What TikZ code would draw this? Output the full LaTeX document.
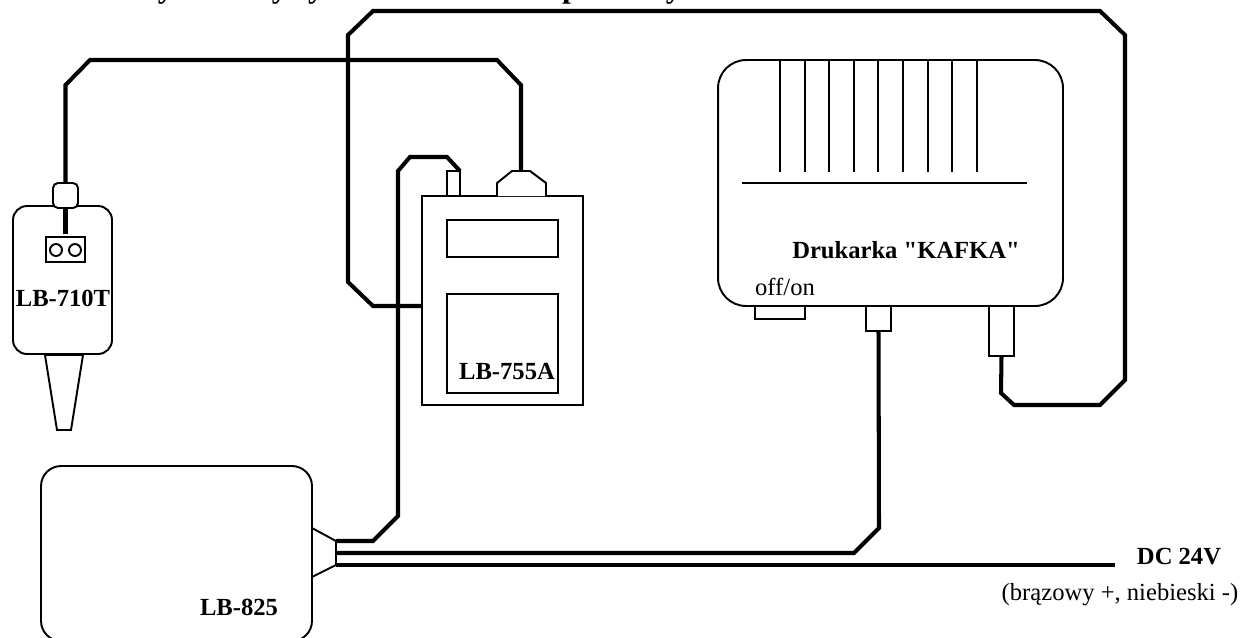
\documentclass[tikz,border=0pt]{standalone}
\usepackage{fontspec}
\defaultfontfeatures[\rmfamily]{}
\setmainfont{Liberation Serif}
\usetikzlibrary{positioning}

\begin{document}
\begin{tikzpicture}[
    x=0.02cm, y=-0.02cm,
    dev/.style={draw, line width=1.1pt, inner sep=0pt, outer sep=0pt, fill=white},
    cable/.style={line width=2.3pt, line join=miter},
    thinl/.style={line width=1.1pt},
    lbl/.style={font=\fontsize{14}{16}\selectfont, inner sep=0pt},
    blbl/.style={font=\fontsize{14}{16}\selectfont\bfseries, inner sep=0pt}
]
\useasboundingbox (0,0) rectangle (1240,637);
\node[anchor=base west, inner sep=0pt, font=\fontsize{18}{22}\selectfont\bfseries] (title) at (110,-3) {Przykładowy system kontroli temperatury};

% sonda
\node[dev, rounded corners=0.28cm, minimum width=1.98cm, minimum height=2.96cm] (sonda) at (62.5,280) {};
\node[dev, rounded corners=0.1cm, minimum width=0.5cm, minimum height=0.5cm] (wtyk) at (65.5,195.5) {};
\node[dev, minimum width=0.78cm, minimum height=0.5cm] (zacisk) at (65.5,249.5) {};
\node[dev, circle, minimum size=0.24cm] (z1) at (56,250) {};
\node[dev, circle, minimum size=0.24cm] (z2) at (75,250) {};
\node[blbl] (sondaopis) at (63,298) {LB-710T};
\draw[thinl] (45,355) -- (83,355) -- (71,430) -- (57,430) -- cycle;
\draw[cable] (wtyk.south) -- (65.5,234);

% miernik
\node[dev, minimum width=3.22cm, minimum height=4.18cm] (miernik) at (502.5,300.5) {};
\node[dev, minimum width=2.22cm, minimum height=0.74cm] (ekran) at (502.5,238.5) {};
\node[dev, minimum width=2.22cm, minimum height=1.98cm] (pole) at (502.5,343.5) {};
\node[blbl] (miernikopis) at (507,371) {LB-755A};
\node[dev, minimum width=0.26cm, minimum height=0.5cm] (gniazdo) at (453.5,183.5) {};
\coordinate (kopula) at (521,171);
\draw[thinl, fill=white] (497,196) -- (497,183) -- (512,171) -- (530,171) -- (546,183) -- (546,196);

% drukarka
\node[dev, rounded corners=0.56cm, minimum width=6.9cm, minimum height=4.92cm] (druk) at (890.5,183) {};
\foreach \x in {780,804.6,829.2,853.8,878.4,903,927.6,952.2,976.8}
    \draw[thinl] (\x,60) -- (\x,172);
\draw[thinl] (742,183) -- (1027,183);
\node[blbl] (drukopis) at (906,250) {Drukarka "KAFKA"};
\node[lbl] (offon) at (785,287) {off/on};
\node[dev, minimum width=1cm, minimum height=0.26cm] (wylacznik) at (780,312.5) {};
\node[dev, minimum width=0.5cm, minimum height=0.5cm] (zasil) at (878.5,318.5) {};
\node[dev, minimum width=0.5cm, minimum height=1cm] (port) at (1001.5,331) {};

% zasilacz
\node[dev, rounded corners=0.4cm, minimum width=5.42cm, minimum height=3.5cm] (zasilacz) at (176.5,553.5) {};
\node[blbl] (zasilaczopis) at (239,607) {LB-825};
\coordinate (w1) at (336,541);
\coordinate (w2) at (336,553);
\coordinate (w3) at (336,565);
\draw[thinl] (312,528) -- (w1) -- (w3) -- (312,577);
\coordinate (koniec) at (1115,565);
\node[blbl] (dc) at (1179,557) {DC 24V};
\node[lbl] (kolory) at (1120,595) {(brązowy +, niebieski -)};

% przewody
\draw[cable] (wtyk.north) -- (65.5,85) -- (90,60) -- (497,60) -- (521,85) -- (kopula);
\draw[cable] (miernik.west |- 0,306) -- (373,306) -- (348,282) -- (348,35) -- (373,11) -- (1100,11) -- (1125,35) -- (1125,380) -- (1100,405) -- (1014,405) -- (1001,393) -- (port.south);
\draw[cable] (w1) -- (373,541) -- (398,516) -- (398,171) -- (410,157) -- (447,157) -- (460,171);
\draw[cable] (w2) -- (854,553) -- (879,528) -- (zasil.south);
\draw[cable] (w3) -- (koniec);
\end{tikzpicture}
\end{document}
